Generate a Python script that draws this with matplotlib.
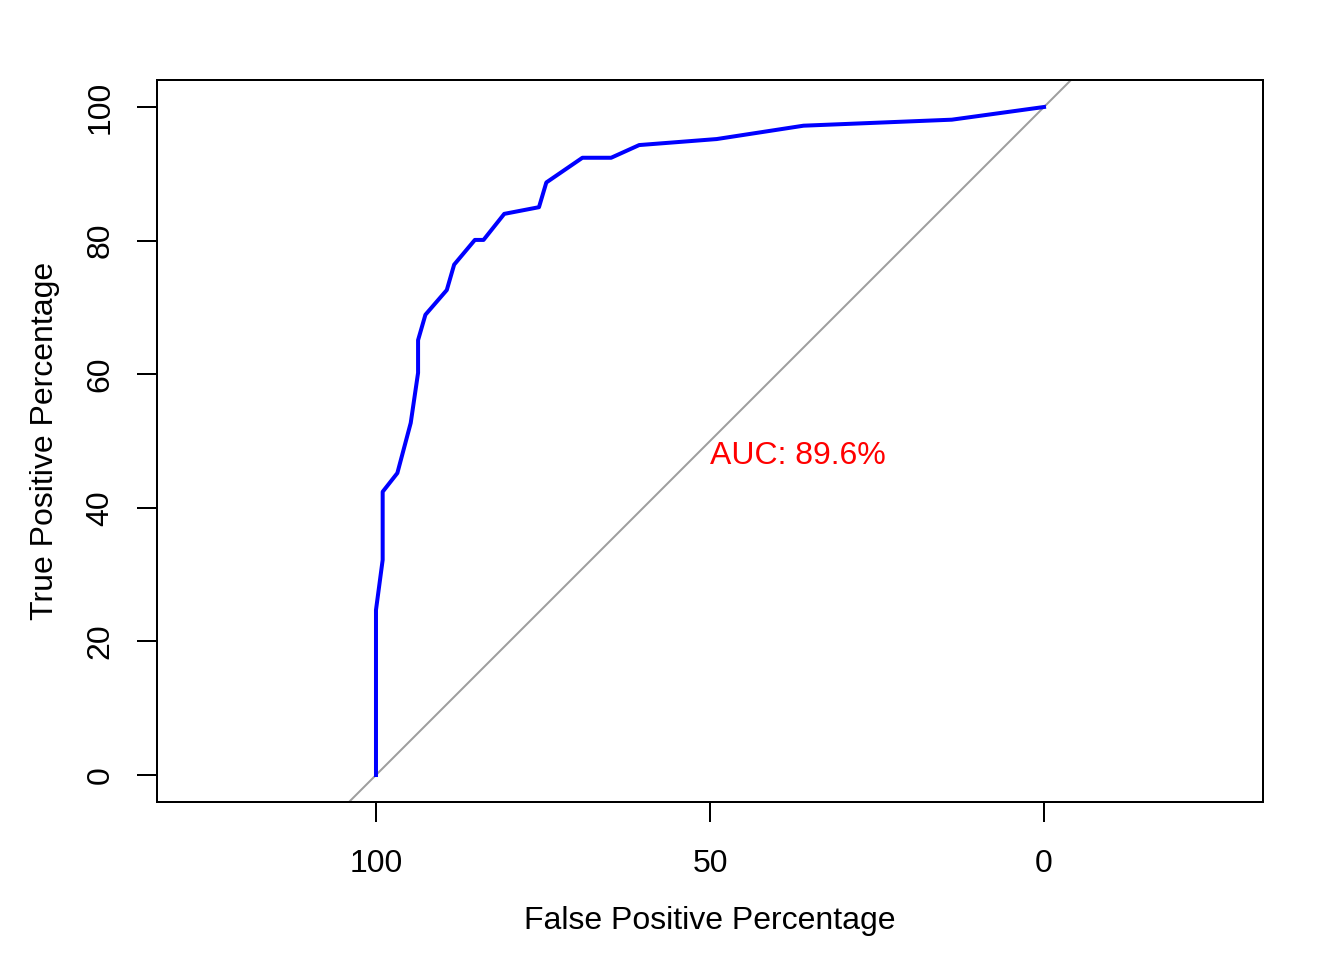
import matplotlib
matplotlib.use("Agg")
import matplotlib.pyplot as plt

# ROC curve points (specificity %, sensitivity %)
specificity = [100.0, 100.0, 99.0, 99.0, 96.8, 94.8, 93.7, 93.7, 92.6, 89.4, 88.3,
               85.2, 83.9, 80.8, 75.6, 74.5, 69.1, 64.8, 60.6, 49.0, 36.0, 13.8, 0.0]
sensitivity = [0.0, 24.7, 32.2, 42.4, 45.2, 52.7, 60.2, 65.1, 68.9, 72.6, 76.4,
               80.1, 80.1, 84.0, 85.0, 88.7, 92.4, 92.4, 94.3, 95.2, 97.2, 98.1, 100.0]
x_ticks = [100, 50, 0]
y_ticks = [0, 20, 40, 60, 80, 100]
auc_label = "AUC: 89.6%"

plt.rcParams['font.family'] = ['Liberation Sans', 'DejaVu Sans']
plt.rcParams['font.size'] = 12

fig = plt.figure(figsize=(7, 5), dpi=192)
ax = fig.add_axes([157/1344, 1-802/960, (1263-157)/1344, (802-80)/960])

ax.set_xlim(132.78, -32.78)
ax.set_ylim(-4.04, 104.04)

# identity line
ax.plot([200, -100], [-100, 200], color='#9E9E9E', lw=0.75)
ax.plot(specificity, sensitivity, color='blue', lw=1.5)

ax.text(50, 50, auc_label, color='red', ha='left', va='top', fontsize=12)

ax.set_xticks(x_ticks)
ax.set_xticklabels([str(t) for t in x_ticks])
ax.set_yticks(y_ticks)
ax.set_yticklabels([str(t) for t in y_ticks], rotation=90, va='center')
ax.tick_params(direction='out', length=7.5, width=0.75, labelsize=12)
ax.tick_params(axis='x', pad=10)
ax.tick_params(axis='y', pad=8)

for s in ax.spines.values():
    s.set_linewidth(0.75)

ax.set_xlabel("False Positive Percentage", fontsize=12, labelpad=10.3)
ax.set_ylabel("True Positive Percentage", fontsize=12, labelpad=9.5)

fig.savefig("out.png", dpi=192)
